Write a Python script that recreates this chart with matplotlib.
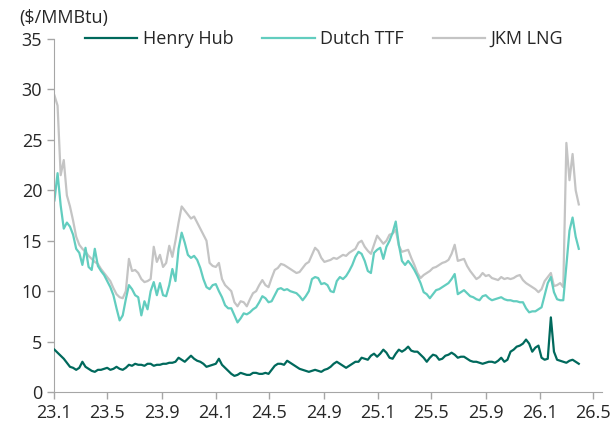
import numpy as np
import pandas as pd
import matplotlib
matplotlib.use("Agg")
import matplotlib.pyplot as plt
import matplotlib.dates as mdates
from matplotlib.ticker import FuncFormatter

# weekly prices, $/MMBtu, starting first Monday of Jan 2023
henry_hub = [
    4.2, 3.9, 3.6, 3.3, 2.9, 2.5, 2.4, 2.2, 2.4, 3.0, 2.5, 2.3, 2.1,
    2.0, 2.2, 2.2, 2.3, 2.4, 2.2, 2.3, 2.5, 2.3, 2.2, 2.4, 2.7, 2.6,
    2.8, 2.7, 2.7, 2.6, 2.8, 2.8, 2.6, 2.7, 2.7, 2.8, 2.8, 2.9, 2.9,
    3.0, 3.4, 3.2, 3.0, 3.3, 3.6, 3.3, 3.1, 3.0, 2.8, 2.5, 2.6, 2.7,
    2.8, 3.3, 2.7, 2.4, 2.1, 1.8, 1.6, 1.7, 1.9, 1.8, 1.7, 1.7, 1.9,
    1.9, 1.8, 1.8, 1.9, 1.8, 2.2, 2.6, 2.8, 2.8, 2.7, 3.1, 2.9, 2.7,
    2.5, 2.3, 2.2, 2.1, 2.0, 2.1, 2.2, 2.1, 2.0, 2.2, 2.3, 2.5, 2.8,
    3.0, 2.8, 2.6, 2.4, 2.6, 2.8, 3.0, 3.0, 3.4, 3.3, 3.2, 3.6, 3.8,
    3.5, 3.8, 4.2, 3.9, 3.4, 3.3, 3.8, 4.2, 4.0, 4.2, 4.5, 4.1, 4.0,
    4.0, 3.7, 3.4, 3.0, 3.4, 3.7, 3.6, 3.2, 3.3, 3.6, 3.7, 3.9, 3.7,
    3.4, 3.5, 3.5, 3.3, 3.1, 3.0, 3.0, 2.9, 2.8, 2.9, 3.0, 3.0, 2.9,
    3.1, 3.4, 3.0, 3.2, 4.0, 4.2, 4.5, 4.6, 4.8, 5.2, 4.8, 4.0, 4.4,
    4.6, 3.4, 3.2, 3.3, 7.4, 4.0, 3.2, 3.1, 3.0, 2.9, 3.1, 3.2, 3.0,
    2.8,
]
dutch_ttf = [
    19.0, 21.7, 18.5, 16.2, 16.8, 16.4, 15.6, 14.2, 13.8, 12.6, 14.3, 12.4, 12.1,
    14.2, 12.5, 12.0, 11.6, 11.0, 10.4, 9.6, 8.3, 7.1, 7.6, 9.2, 10.6, 10.2,
    9.6, 9.4, 7.6, 9.0, 8.2, 10.0, 10.9, 9.6, 10.8, 9.6, 9.5, 10.6, 12.2,
    11.0, 14.2, 15.8, 14.8, 13.6, 13.3, 13.5, 13.1, 12.3, 11.2, 10.4, 10.2, 10.6,
    10.7, 10.0, 9.4, 8.6, 8.3, 8.3, 7.6, 6.9, 7.3, 7.8, 7.7, 7.9, 8.2,
    8.4, 8.9, 9.5, 9.3, 8.9, 9.0, 9.6, 10.2, 10.3, 10.1, 10.2, 10.0, 9.9,
    9.8, 9.5, 9.1, 9.5, 10.0, 11.2, 11.4, 11.3, 10.7, 10.8, 10.6, 10.0, 9.9,
    11.0, 11.4, 11.2, 11.5, 12.0, 12.6, 13.4, 13.9, 13.7, 13.0, 12.0, 11.8, 13.8,
    14.1, 14.3, 13.2, 14.4, 15.0, 15.8, 16.9, 14.6, 13.0, 12.6, 13.0, 12.6, 12.1,
    11.5, 10.8, 9.9, 9.7, 9.3, 9.7, 10.1, 10.2, 10.4, 10.6, 10.8, 11.2, 11.7,
    9.7, 9.9, 10.1, 9.8, 9.5, 9.4, 9.2, 9.1, 9.5, 9.6, 9.3, 9.1, 9.2,
    9.3, 9.4, 9.2, 9.1, 9.1, 9.0, 9.0, 8.9, 8.9, 8.3, 7.9, 8.0, 8.0,
    8.2, 8.4, 9.6, 10.8, 11.4, 9.9, 9.2, 9.1, 9.1, 12.5, 16.0, 17.3, 15.4,
    14.2,
]
jkm_lng = [
    29.4, 28.4, 21.5, 23.0, 19.5, 18.4, 17.0, 15.4, 14.6, 14.2, 13.9, 13.5, 13.2,
    12.9, 12.7, 12.2, 11.8, 11.4, 11.0, 10.3, 9.7, 9.4, 9.3, 10.0, 13.2, 12.0,
    12.1, 11.8, 11.2, 10.9, 11.0, 11.2, 14.4, 12.9, 13.6, 12.4, 12.8, 14.5, 13.4,
    15.0, 16.8, 18.4, 18.0, 17.6, 17.2, 17.4, 16.8, 16.2, 15.6, 15.0, 12.8, 12.5,
    12.4, 12.8, 11.2, 10.6, 10.3, 10.0, 8.9, 8.5, 9.0, 8.9, 8.5, 9.2, 9.8,
    10.0, 10.6, 11.1, 10.6, 10.4, 11.3, 12.1, 12.3, 12.7, 12.6, 12.4, 12.2, 12.0,
    11.8, 11.9, 12.3, 12.7, 12.9, 13.6, 14.3, 14.0, 13.3, 12.9, 13.0, 13.1, 13.3,
    13.2, 13.4, 13.6, 13.5, 13.8, 14.0, 14.2, 14.8, 15.0, 14.4, 14.0, 13.7, 14.6,
    15.5, 15.1, 14.7, 15.0, 15.6, 15.7, 16.1, 14.5, 13.9, 14.0, 14.1, 13.3, 12.6,
    11.8, 11.3, 11.6, 11.8, 12.0, 12.3, 12.4, 12.6, 12.8, 12.9, 13.1, 13.7, 14.6,
    13.0, 13.1, 13.2, 12.5, 12.0, 11.6, 11.2, 11.4, 11.8, 11.5, 11.6, 11.3, 11.2,
    11.1, 11.4, 11.2, 11.3, 11.2, 11.3, 11.5, 11.6, 11.1, 10.8, 10.6, 10.4, 10.2,
    9.9, 10.2, 11.0, 11.4, 11.8, 10.5, 10.6, 10.8, 10.4, 24.7, 21.0, 23.6, 20.0,
    18.6,
]

dates = pd.date_range("2023-01-02", periods=len(henry_hub), freq="7D")

plt.rcParams["font.family"] = ["Open Sans", "DejaVu Sans"]
plt.rcParams["font.size"] = 13

fig = plt.figure(figsize=(6.16, 4.25), dpi=100)
ax = fig.add_axes([0.0877, 0.0776, 0.8893, 0.8306])

ax.plot(dates, henry_hub, color="#00695C", lw=1.6, label="Henry Hub", zorder=3)
ax.plot(dates[:len(dutch_ttf)], dutch_ttf, color="#62CDBF", lw=1.6, label="Dutch TTF", zorder=2)
ax.plot(dates[:len(jkm_lng)], jkm_lng, color="#C4C4C4", lw=1.6, label="JKM LNG", zorder=1)

ax.set_ylim(0, 35)
ax.set_yticks(range(0, 36, 5))
ax.set_xlim(pd.Timestamp("2023-01-01"), pd.Timestamp("2026-05-21"))
ax.xaxis.set_major_locator(mdates.MonthLocator(bymonth=[1, 5, 9]))
ax.xaxis.set_major_formatter(FuncFormatter(
    lambda v, p: f"{mdates.num2date(v).year % 100}.{mdates.num2date(v).month}"))

for s in ["top", "right"]:
    ax.spines[s].set_visible(False)
for s in ["left", "bottom"]:
    ax.spines[s].set_color("#A6A6A6")
ax.tick_params(colors="#A6A6A6", labelcolor="#262626", length=5, width=1,
               labelsize=13)

ax.legend(loc="center", bbox_to_anchor=(0.493, 1.0), ncol=3, frameon=False,
          handlelength=2.9, handletextpad=0.3, columnspacing=1.6,
          borderaxespad=0, fontsize=13, labelcolor="#262626")

fig.text(19 / 616, 1 - 18 / 425, "($/MMBtu)", ha="left", va="center",
         fontsize=13, color="#262626")

fig.savefig("out.png", dpi=100)
